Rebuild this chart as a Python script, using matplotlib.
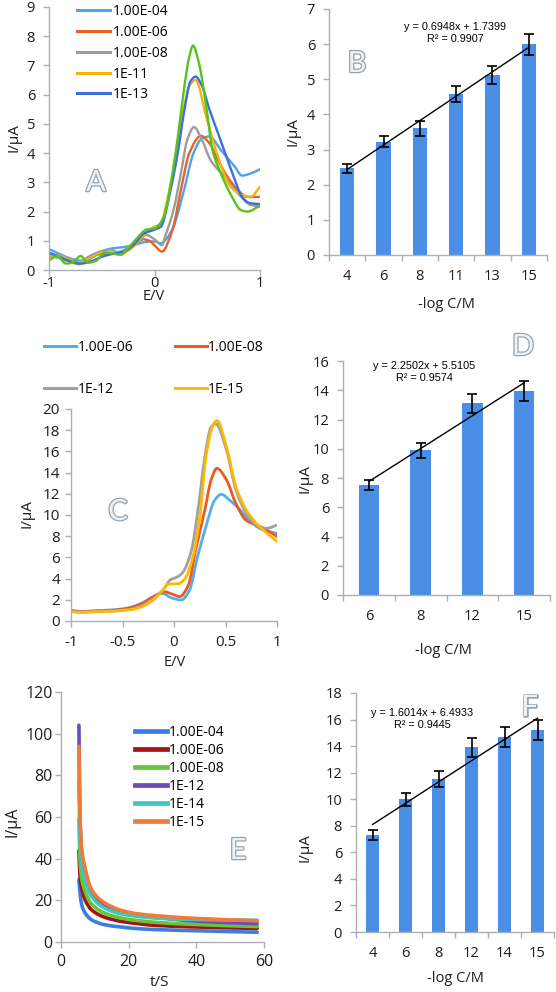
import numpy as np
import matplotlib
matplotlib.use("Agg")
import matplotlib.pyplot as plt
from matplotlib.path import Path
from matplotlib.patches import PathPatch
from matplotlib.lines import Line2D
import matplotlib.patheffects as pe

plt.rcParams['font.family'] = ['Open Sans', 'DejaVu Sans']
plt.rcParams['axes.unicode_minus'] = False

# ---------------- data ----------------
# Panel A (DPV, E/V vs I/uA)
A_E04_V = [-1, -0.9, -0.8, -0.7, -0.6, -0.5, -0.4, -0.3, -0.2, -0.1, 0, 0.06, 0.12, 0.18, 0.28, 0.37, 0.45, 0.52, 0.63, 0.76, 0.83, 0.91, 1.0]
A_E04_I = [0.72, 0.55, 0.4, 0.32, 0.5, 0.65, 0.74, 0.78, 0.85, 0.95, 0.98, 0.91, 1.1, 1.48, 2.74, 4.0, 4.5, 4.57, 4.1, 3.54, 3.23, 3.3, 3.45]
A_E06_V = [-1, -0.9, -0.8, -0.72, -0.6, -0.5, -0.4, -0.3, -0.2, -0.1, -0.05, 0, 0.07, 0.17, 0.25, 0.33, 0.44, 0.52, 0.6, 0.69, 0.79, 0.88, 1.0]
A_E06_I = [0.55, 0.45, 0.33, 0.25, 0.45, 0.55, 0.55, 0.62, 0.85, 1.05, 1.0, 0.85, 0.63, 1.37, 2.74, 4.0, 4.59, 4.34, 3.77, 3.2, 2.74, 2.5, 2.5]
A_E08_V = [-1, -0.9, -0.8, -0.72, -0.6, -0.5, -0.42, -0.35, -0.25, -0.15, -0.08, 0, 0.07, 0.1, 0.18, 0.25, 0.31, 0.375, 0.45, 0.53, 0.66, 0.79, 0.91, 1.0]
A_E08_I = [0.5, 0.4, 0.28, 0.2, 0.4, 0.62, 0.7, 0.62, 0.75, 1.0, 1.2, 1.05, 0.85, 1.14, 2.05, 3.3, 4.45, 4.89, 4.45, 3.77, 3.2, 2.63, 2.23, 2.17]
A_E11_V = [-1, -0.92, -0.8, -0.72, -0.6, -0.5, -0.4, -0.3, -0.2, -0.1, 0, 0.05, 0.15, 0.22, 0.28, 0.34, 0.39, 0.49, 0.6, 0.72, 0.83, 0.91, 1.0]
A_E11_I = [0.42, 0.5, 0.35, 0.26, 0.45, 0.6, 0.6, 0.58, 0.8, 1.2, 1.48, 1.55, 2.9, 4.3, 5.6, 6.35, 6.5, 5.25, 3.9, 2.85, 2.57, 2.5, 2.85]
A_E13_V = [-1, -0.9, -0.8, -0.7, -0.6, -0.5, -0.4, -0.3, -0.2, -0.1, 0, 0.06, 0.15, 0.22, 0.28, 0.34, 0.39, 0.45, 0.52, 0.6, 0.68, 0.76, 0.83, 0.91, 1.0]
A_E13_I = [0.6, 0.45, 0.3, 0.22, 0.3, 0.45, 0.55, 0.62, 0.85, 1.25, 1.38, 1.48, 2.7, 4.0, 5.4, 6.45, 6.62, 6.3, 5.5, 4.7, 3.9, 3.1, 2.5, 2.28, 2.26]
A_G_V = [-1, -0.92, -0.84, -0.78, -0.7, -0.63, -0.56, -0.47, -0.38, -0.32, -0.25, -0.15, -0.08, 0, 0.09, 0.17, 0.23, 0.28, 0.33, 0.365, 0.42, 0.49, 0.55, 0.63, 0.72, 0.82, 0.88, 1.0]
A_G_I = [0.33, 0.48, 0.22, 0.25, 0.48, 0.25, 0.3, 0.6, 0.55, 0.52, 0.75, 1.15, 1.38, 1.42, 1.83, 3.3, 4.8, 6.2, 7.3, 7.68, 7.1, 5.6, 4.1, 3.3, 2.6, 2.05, 2.0, 2.2]
A_LABELS = ['1.00E-04', '1.00E-06', '1.00E-08', '1E-11', '1E-13']

# Panel B
B_CATS = ['4', '6', '8', '11', '13', '15']
B_VALS = [2.47, 3.22, 3.6, 4.58, 5.13, 6.0]
B_ERR = [0.13, 0.16, 0.2, 0.23, 0.25, 0.3]
B_SLOPE, B_INTER, B_R2 = 0.6948, 1.7399, 0.9907

# Panel C
C_E06_V = [-1, -0.9, -0.8, -0.6, -0.5, -0.4, -0.3, -0.2, -0.11, -0.03, 0.07, 0.15, 0.23, 0.31, 0.395, 0.46, 0.54, 0.64, 0.73, 0.83, 0.93, 1.0]
C_E06_I = [1.0, 0.9, 0.95, 1.05, 1.15, 1.35, 1.75, 2.3, 2.6, 2.2, 1.98, 2.9, 6.1, 8.9, 11.4, 11.95, 11.4, 10.5, 9.5, 8.75, 8.4, 8.27]
C_E08_V = [-1, -0.9, -0.8, -0.6, -0.5, -0.4, -0.3, -0.2, -0.09, -0.02, 0.055, 0.136, 0.217, 0.3, 0.36, 0.417, 0.51, 0.6, 0.7, 0.8, 0.9, 1.0]
C_E08_I = [1.0, 0.88, 0.92, 1.0, 1.1, 1.3, 1.7, 2.3, 2.75, 2.55, 2.3, 3.3, 7.0, 10.5, 13.3, 14.4, 13.3, 11.1, 9.5, 9.05, 8.6, 7.95]
C_E12_V = [-1, -0.9, -0.8, -0.6, -0.5, -0.4, -0.3, -0.2, -0.1, -0.04, 0.04, 0.087, 0.17, 0.233, 0.3, 0.36, 0.405, 0.51, 0.6, 0.7, 0.8, 0.9, 1.0]
C_E12_I = [0.95, 0.85, 0.88, 0.95, 1.0, 1.15, 1.5, 2.1, 3.0, 3.85, 4.2, 4.6, 6.7, 10.5, 15.5, 18.3, 18.6, 16.1, 12.4, 10.2, 9.05, 8.75, 9.05]
C_E15_V = [-1, -0.9, -0.8, -0.6, -0.5, -0.4, -0.3, -0.2, -0.1, -0.05, 0.03, 0.1, 0.185, 0.25, 0.31, 0.38, 0.417, 0.51, 0.6, 0.7, 0.8, 0.9, 1.0]
C_E15_I = [0.9, 0.8, 0.85, 0.92, 1.0, 1.1, 1.4, 2.0, 3.0, 3.5, 3.5, 3.9, 6.1, 9.8, 15.5, 18.5, 18.9, 16.4, 12.7, 10.5, 9.2, 8.3, 7.5]
C_LABELS = ['1.00E-06', '1.00E-08', '1E-12', '1E-15']

# Panel D
D_CATS = ['6', '8', '12', '15']
D_VALS = [7.5, 9.9, 13.1, 13.95]
D_ERR = [0.35, 0.5, 0.65, 0.7]
D_SLOPE, D_INTER, D_R2 = 2.2502, 5.5105, 0.9574

# Panel E (chronoamperometry)
E_T = [5.3, 5.6, 6.1, 7.1, 9.0, 12.9, 17.8, 22.7, 27.6, 40, 58]
E_E04 = [30, 24, 18, 14, 10.7, 8.3, 7.2, 6.4, 6.0, 5.4, 4.7]
E_E06 = [44, 32, 26, 20.3, 15.5, 11.9, 9.9, 8.8, 8.0, 7.2, 6.5]
E_E08 = [59, 40, 30.8, 24.4, 18.3, 13.9, 11.5, 10.3, 9.5, 8.4, 7.4]
E_E12 = [104, 60, 43.6, 34, 24.4, 18, 14.4, 12.8, 11.9, 10.0, 8.8]
E_E14 = [78, 50, 37, 30, 22, 16.3, 13.5, 12.3, 11.5, 10.8, 10.4]
E_E15 = [94, 62, 45, 35.6, 25.2, 18.8, 15.2, 13.5, 12.7, 11.3, 10.2]
E_LABELS = ['1.00E-04', '1.00E-06', '1.00E-08', '1E-12', '1E-14', '1E-15']

# Panel F
F_CATS = ['4', '6', '8', '12', '14', '15']
F_VALS = [7.3, 10.0, 11.5, 13.9, 14.7, 15.2]
F_ERR = [0.4, 0.5, 0.6, 0.7, 0.75, 0.75]
F_SLOPE, F_INTER, F_R2 = 1.6014, 6.4933, 0.9445

# ---------------- style ----------------
W, H = 556, 992
fig = plt.figure(figsize=(W / 100, H / 100), dpi=100)
AX = '#a9b0b6'
TXT = '#1e1e1e'
BAR = '#4a8ee6'
FS = 10      # legend text
TFS = 10.5   # axis titles


def add_ax(l, r, t, b):
    return fig.add_axes([l / W, 1 - b / H, (r - l) / W, (b - t) / H])


def style(ax, size=10.5, ypad=6):
    for s in ['top', 'right']:
        ax.spines[s].set_visible(False)
    for s in ['left', 'bottom']:
        ax.spines[s].set_color(AX)
        ax.spines[s].set_linewidth(1.0)
    ax.tick_params(which='both', colors=AX, labelcolor=TXT, length=4, width=1,
                   direction='out', labelsize=size)
    ax.tick_params(axis='y', pad=ypad)
    ax.patch.set_alpha(0)


def pchip_path(ax, x, y, **kw):
    x = np.asarray(x, float)
    y = np.asarray(y, float)
    h = np.diff(x)
    d = np.diff(y) / h
    n = len(x)
    m = np.zeros(n)
    m[0], m[-1] = d[0], d[-1]
    for k in range(1, n - 1):
        if d[k - 1] * d[k] > 0:
            w1 = 2 * h[k] + h[k - 1]
            w2 = h[k] + 2 * h[k - 1]
            m[k] = (w1 + w2) / (w1 / d[k - 1] + w2 / d[k])
    verts = [(x[0], y[0])]
    codes = [Path.MOVETO]
    for k in range(n - 1):
        verts += [(x[k] + h[k] / 3, y[k] + m[k] * h[k] / 3),
                  (x[k + 1] - h[k] / 3, y[k + 1] - m[k + 1] * h[k] / 3),
                  (x[k + 1], y[k + 1])]
        codes += [Path.CURVE4] * 3
    patch = PathPatch(Path(verts, codes), fill=False, capstyle='round',
                      joinstyle='round', **kw)
    ax.add_patch(patch)


def letter(x, y, s):
    fig.text(x / W, 1 - y / H, s, fontsize=21, color='#eef2f5', ha='center', va='center',
             family=['Lato', 'DejaVu Sans'],
             path_effects=[pe.withStroke(linewidth=1.8, foreground='#97a3ab')])


def ftext(x, y, s, rot=0, size=TFS):
    fig.text(x / W, 1 - y / H, s, fontsize=size, color=TXT, ha='center', va='center',
             rotation=rot)


def bar_panel(ax, cats, vals, errs, slope, inter, r2, ymax, ystep, eqx, eqy):
    pos = np.arange(1, len(cats) + 1)
    ax.bar(pos, vals, width=0.4, color=BAR, zorder=2)
    ax.errorbar(pos, vals, yerr=errs, fmt='none', ecolor='black', elinewidth=1.2,
                capsize=3.5, capthick=1.2, zorder=3)
    ax.plot([pos[0], pos[-1]], [slope * pos[0] + inter, slope * pos[-1] + inter],
            color='black', lw=1.0, zorder=4)
    ax.set_xlim(0.5, len(cats) + 0.5)
    ax.set_ylim(0, ymax)
    ax.set_yticks(np.arange(0, ymax + 0.01, ystep))
    ax.set_yticklabels([f'{v:g}' for v in np.arange(0, ymax + 0.01, ystep)])
    ax.set_xticks(pos)
    ax.set_xticklabels(cats)
    ax.set_xticks(np.arange(0.5, len(cats) + 0.6, 1), minor=True)
    ax.tick_params(axis='x', which='major', length=0, pad=10)
    ax.tick_params(axis='x', which='minor', length=4)
    fig.text(eqx / W, 1 - eqy / H, f'y = {slope:.4f}x + {inter:.4f}',
             fontsize=7.8, family='Liberation Sans', ha='center', va='center', color='black')
    fig.text(eqx / W, 1 - (eqy + 12) / H, f'R² = {r2:.4f}',
             fontsize=7.8, family='Liberation Sans', ha='center', va='center', color='black')


# ---------------- Panel A ----------------
axA = add_ax(49, 260, 7, 270)
style(axA, 10.5, 6)
colA = ['#4da3ec', '#e8602c', '#9c9c9c', '#f6b20a', '#3c6fdc']
seriesA = [(A_E04_V, A_E04_I), (A_E06_V, A_E06_I), (A_E08_V, A_E08_I),
           (A_E11_V, A_E11_I), (A_E13_V, A_E13_I)]
for (vv, ii), c in zip(seriesA, colA):
    pchip_path(axA, vv, ii, color=c, lw=1.7)
pchip_path(axA, A_G_V, A_G_I, color='#56c21f', lw=1.7)
axA.set_xlim(-1, 1)
axA.set_ylim(0, 9)
axA.set_xticks([-1, 0, 1])
axA.set_xticklabels(['-1', '0', '1'])
axA.set_yticks(range(0, 10))
axA.tick_params(axis='x', pad=0.5)
hA = [Line2D([], [], color=c, lw=2.2) for c in colA]
axA.legend(hA, A_LABELS, loc='upper left', bbox_to_anchor=(77 / W, 1 - 4 / H),
           bbox_transform=fig.transFigure, frameon=False, borderpad=0, borderaxespad=0,
           handlelength=2.4, handletextpad=0.15, labelspacing=0.42, fontsize=FS)
ftext(14, 138, 'I/µA', rot=90, size=11)
ftext(154, 297, 'E/V')
letter(96, 183, 'A')

# ---------------- Panel B ----------------
axB = add_ax(329, 547, 9, 255)
style(axB, 10.5, 6)
bar_panel(axB, B_CATS, B_VALS, B_ERR, B_SLOPE, B_INTER, B_R2, 7, 1, 455, 27)
ftext(293, 132, 'I/µA', rot=90, size=11)
ftext(446, 305, '-log C/M')
letter(357, 64, 'B')

# ---------------- Panel C ----------------
axC = add_ax(71, 277, 409, 621)
style(axC, 11, 4)
colC = ['#52aef0', '#ea5a22', '#a0a0a0', '#ffb800']
seriesC = [(C_E06_V, C_E06_I), (C_E08_V, C_E08_I), (C_E12_V, C_E12_I), (C_E15_V, C_E15_I)]
for (vv, ii), c in zip(seriesC, colC):
    pchip_path(axC, vv, ii, color=c, lw=2.0)
axC.set_xlim(-1, 1)
axC.set_ylim(0, 20)
axC.set_xticks([-1, -0.5, 0, 0.5, 1])
axC.set_xticklabels(['-1', '-0.5', '0', '0.5', '1'])
axC.set_yticks(range(0, 21, 2))
axC.tick_params(axis='x', pad=6)
hC = [Line2D([], [], color=c, lw=2.2) for c in colC]
order = [0, 2, 1, 3]
axC.legend([hC[i] for i in order], [C_LABELS[i] for i in order], ncol=2,
           loc='upper left', bbox_to_anchor=(44 / W, 1 - 340 / H),
           bbox_transform=fig.transFigure, frameon=False, borderpad=0, borderaxespad=0,
           handlelength=2.3, handletextpad=0.1, labelspacing=1.95, columnspacing=3.0,
           fontsize=FS)
ftext(27, 514, 'I/µA', rot=90, size=11)
ftext(175, 662, 'E/V')
letter(118, 512, 'C')

# ---------------- Panel D ----------------
axD = add_ax(343, 550, 361, 595)
style(axD, 10.5, 6)
bar_panel(axD, D_CATS, D_VALS, D_ERR, D_SLOPE, D_INTER, D_R2, 16, 2, 424, 366)
ftext(305, 479, 'I/µA', rot=90, size=11)
ftext(443, 650, '-log C/M')
letter(523, 347, 'D')

# ---------------- Panel E ----------------
axE = add_ax(61, 264, 692, 942)
style(axE, 11.5, 2)
colE = ['#3a7ee0', '#a11515', '#66c63a', '#6a4cba', '#3fc4c0', '#f07a3a']
seriesE = [E_E04, E_E06, E_E08, E_E12, E_E14, E_E15]
for vals, c in zip(seriesE, colE):
    pchip_path(axE, E_T, vals, color=c, lw=2.6)
axE.set_xlim(0, 60)
axE.set_ylim(0, 120)
axE.set_xticks([0, 20, 40, 60])
axE.set_yticks(range(0, 121, 20))
axE.tick_params(axis='x', pad=5)
hE = [Line2D([], [], color=c, lw=3.4) for c in colE]
axE.legend(hE, E_LABELS, loc='upper left', bbox_to_anchor=(135 / W, 1 - 725 / H),
           bbox_transform=fig.transFigure, frameon=False, borderpad=0, borderaxespad=0,
           handlelength=2.3, handletextpad=0.15, labelspacing=0.22, fontsize=FS)
ftext(13, 822, 'I/µA', rot=90, size=11.5)
ftext(160, 982, 't/S', size=11)
letter(238, 851, 'E')

# ---------------- Panel F ----------------
axF = add_ax(356, 554, 693, 932)
style(axF, 10.5, 6)
bar_panel(axF, F_CATS, F_VALS, F_ERR, F_SLOPE, F_INTER, F_R2, 18, 2, 422, 713)
ftext(305, 848, 'I/µA', rot=90, size=11)
ftext(455, 978, '-log C/M')
letter(530, 708, 'F')

fig.savefig('out.png', dpi=100)
